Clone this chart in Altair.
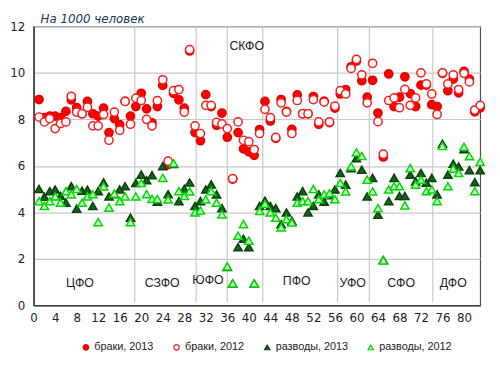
import altair as alt
import pandas as pd

regions = list(range(1, 84))

marriages_2013 = [8.85, 8.07, 8.14, 8.14, 8.07, 8.34, 8.84, 8.5, 8.24, 8.77,
                  8.24, 8.14, 8.48, 7.43, 8.03, 7.77, 8.77, 8.14, 8.55, 9.12,
                  8.45, 7.85, 8.55, 9.46, 6.05, 9.12, 8.84, 8.48, 10.94, 7.43,
                  7.08, 9.06, 8.55, 7.74, 8.27, 7.23, 5.43, 7.43, 6.73, 6.6,
                  6.45, 7.56, 8.77, 7.93, 7.18, 8.85, 8.34, 7.57, 9.05, 8.24,
                  8.24, 8.98, 7.79, 8.78, 7.86, 8.48, 9.09, 9.28, 10.26, 10.51,
                  9.66, 8.95, 9.68, 8.27, 6.38, 9.95, 8.55, 8.95, 9.83, 9.11,
                  8.55, 9.47, 9.47, 8.63, 8.55, 9.98, 9.23, 9.73, 9.14, 10.06,
                  9.73, 8.32, 8.49]
marriages_2012 = [8.1, 7.89, 8.03, 7.6, 7.82, 7.89, 8.99, 8.31, 8.24, 8.52,
                  7.72, 7.72, 8.21, 7.1, 8.31, 7.53, 8.77, 7.79, 8.91, 8.81,
                  8.0, 7.72, 8.8, 9.7, 6.2, 9.23, 9.28, 8.31, 11.0, 7.72,
                  7.39, 8.6, 8.6, 7.87, 7.8, 7.6, 5.45, 7.89, 7.1, 7.04,
                  6.7, 7.39, 8.43, 8.07, 7.22, 8.71, 8.31, 7.39, 8.81, 8.24,
                  8.24, 8.85, 7.89, 8.74, 7.89, 8.57, 9.23, 9.09, 10.19, 10.58,
                  9.91, 8.71, 10.41, 7.9, 6.5, 8.81, 8.92, 8.5, 9.29, 8.6,
                  8.92, 10.0, 9.52, 9.09, 8.21, 10.0, 9.52, 9.91, 9.28, 9.98,
                  9.61, 8.4, 8.6]
divorces_2013 = [5.0, 4.67, 4.91, 4.98, 4.7, 4.41, 5.12, 4.16, 4.93, 4.97,
                 4.27, 4.91, 5.29, 4.68, 4.78, 4.98, 5.12, 3.77, 5.26, 5.62,
                 5.38, 5.6, 4.46, 5.98, 4.78, 6.08, 4.48, 5.01, 5.28, 4.27,
                 4.48, 4.98, 5.2, 4.77, 4.18, 1.65, 0.94, 2.5, 2.86, 2.5,
                 0.94, 4.27, 4.5, 4.27, 4.18, 3.49, 3.99, 3.63, 4.68, 4.91,
                 3.99, 4.27, 4.77, 4.46, 4.74, 4.98, 5.69, 5.19, 5.9, 6.33,
                 5.83, 4.68, 5.48, 3.9, 1.95, 4.48, 5.48, 4.7, 4.7, 5.62,
                 5.33, 5.69, 5.27, 5.48, 4.77, 6.95, 5.62, 6.09, 5.97, 6.72,
                 5.81, 5.3, 5.81]
divorces_2012 = [4.48, 4.27, 4.48, 4.68, 4.41, 4.91, 4.77, 5.0, 4.41, 4.68,
                 4.78, 3.58, 5.11, 4.2, 4.8, 4.48, 4.68, 3.58, 4.68, 5.26,
                 4.78, 4.58, 4.57, 5.48, 4.55, 6.11, 4.91, 4.7, 4.9, 3.99,
                 4.08, 4.55, 4.91, 4.41, 3.91, 1.67, 0.94, 2.99, 3.49, 2.78,
                 0.94, 4.06, 4.36, 3.99, 3.77, 3.35, 3.7, 3.56, 4.41, 4.48,
                 4.48, 5.0, 4.56, 4.77, 4.82, 4.56, 5.26, 4.9, 5.97, 6.58,
                 6.42, 5.4, 4.9, 4.18, 1.93, 4.98, 5.12, 5.12, 4.3, 5.9,
                 5.19, 5.4, 4.91, 4.98, 4.48, 6.85, 5.12, 5.88, 5.69, 6.82,
                 6.41, 4.91, 6.17]

series_names = ["браки, 2013", "браки, 2012", "разводы, 2013", "разводы, 2012"]

district_names = ["ЦФО", "СЗФО", "ЮФО", "СКФО", "ПФО", "УФО", "СФО", "ДФО"]
district_label_x = [8.6, 23.9, 32.4, 39.6, 48.9, 59.3, 68.3, 78.0]
district_label_y = [0.97, 0.97, 1.08, 11.15, 1.03, 0.94, 0.94, 0.94]
district_bounds = [18.8, 30.2, 36.0, 42.6, 56.5, 62.4, 74.2]

x_ticks = list(range(0, 84, 4))
y_ticks = list(range(0, 13, 2))

rows = []
for name, vals in zip(series_names, [marriages_2013, marriages_2012, divorces_2013, divorces_2012]):
    for r, v in zip(regions, vals):
        rows.append({"region": r, "value": v, "series": name})
df = pd.DataFrame(rows)

labels_df = pd.DataFrame({"name": district_names, "x": district_label_x, "y": district_label_y})
bounds_df = pd.DataFrame({"x": district_bounds})
title_df = pd.DataFrame({"t": ["На 1000 человек"]})

x_scale = alt.Scale(domain=[0, 83], nice=False, zero=False)
y_scale = alt.Scale(domain=[0, 12], nice=False)

x_axis = alt.Axis(values=x_ticks, grid=False, ticks=False, title=None,
                  labelFont="DejaVu Sans", labelFontSize=12, labelColor="#222222",
                  labelPadding=7, labelOverlap=False, labelFlush=False,
                  domainColor="#404040", domainWidth=1.6)
y_axis = alt.Axis(values=y_ticks, grid=True, gridColor="#C8C8C8", gridWidth=1.2,
                  ticks=False, title=None, labelFont="DejaVu Sans", labelFontSize=12,
                  labelColor="#222222", labelPadding=9, labelOverlap=False,
                  domainColor="#404040", domainWidth=1.6)

legend = alt.Legend(title=None, orient="none", legendX=47.5, legendY=320, direction="horizontal",
                    labelFont="Liberation Sans", labelFontSize=11, labelColor="#222222",
                    symbolSize=30, symbolStrokeWidth=1.2, columnPadding=17, labelOffset=3,
                    padding=0)

rules = alt.Chart(bounds_df).mark_rule(color="#C8C8C8", strokeWidth=1.2).encode(
    x=alt.X("x:Q", scale=x_scale, axis=x_axis),
    y=alt.Y(datum=0.13, scale=y_scale, axis=y_axis),
    y2=alt.datum(12),
)

points = alt.Chart(df).mark_point(filled=True, opacity=1, strokeWidth=1.5, size=70).encode(
    x=alt.X("region:Q", scale=x_scale, axis=x_axis),
    y=alt.Y("value:Q", scale=y_scale, axis=y_axis),
    shape=alt.Shape("series:N", scale=alt.Scale(domain=series_names,
                    range=["circle", "circle", "triangle-up", "triangle-up"]), legend=legend),
    fill=alt.Fill("series:N", scale=alt.Scale(domain=series_names,
                  range=["#FF0000", "#FFFFFF", "#14641A", "#C8FFC8"]), legend=legend),
    stroke=alt.Stroke("series:N", scale=alt.Scale(domain=series_names,
                      range=["#E00000", "#FF1A1A", "#0A400C", "#00D800"]), legend=legend),
)

labels = alt.Chart(labels_df).mark_text(font="Liberation Sans", fontSize=12.5, color="#222222",
                                        align="center", baseline="middle").encode(
    x=alt.X("x:Q", scale=x_scale, axis=x_axis),
    y=alt.Y("y:Q", scale=y_scale, axis=y_axis),
    text="name:N",
)

title = alt.Chart(title_df).mark_text(font="DejaVu Sans", fontSize=12, fontStyle="italic",
                                      color="#17365D", align="left", baseline="alphabetic").encode(
    x=alt.value(7), y=alt.value(-3), text="t:N")

chart = alt.layer(rules, points, labels, title).properties(
    width=453, height=283, autosize="none",
    padding={"left": 26, "top": 16, "right": 12, "bottom": 60},
).configure_view(stroke="#505050", strokeWidth=1.2).configure_axis(labelOverlap=False)

chart.save("out.html", embed_options={"renderer": "svg", "actions": False})
